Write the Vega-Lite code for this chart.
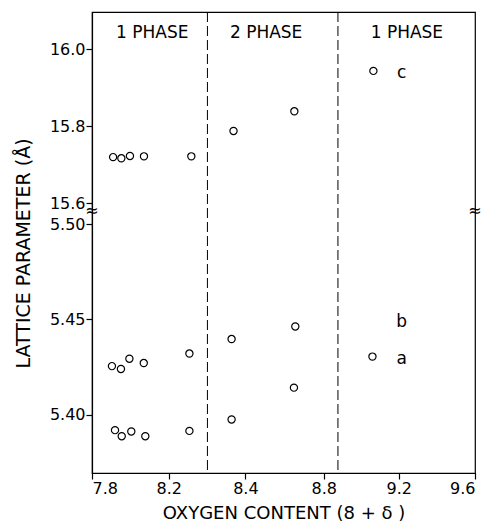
{
  "$schema": "https://vega.github.io/schema/vega-lite/v6.json",
  "width": 383,
  "height": 461,
  "autosize": "none",
  "padding": {"left": 92, "top": 12, "right": 14, "bottom": 53},
  "background": "white",
  "config": {
    "view": {"stroke": "black", "strokeWidth": 1.2},
    "font": "DejaVu Sans",
    "axis": {
      "grid": false,
      "domainColor": "black",
      "domainWidth": 1.2,
      "ticks": true,
      "tickColor": "black",
      "tickWidth": 1.2,
      "tickSize": 6,
      "labelColor": "black",
      "labelFont": "DejaVu Sans",
      "labelFontSize": 16,
      "titleColor": "black",
      "titleFont": "DejaVu Sans",
      "titleFontSize": 18,
      "titleFontWeight": "normal"
    }
  },
  "datasets": {
    "points": [
      {"x": 7.910, "y": 15.720}, {"x": 7.953, "y": 15.717}, {"x": 7.998, "y": 15.723},
      {"x": 8.071, "y": 15.722}, {"x": 8.259, "y": 15.722},
      {"x": 8.369, "y": 15.788}, {"x": 8.650, "y": 15.839}, {"x": 9.065, "y": 15.944},
      {"x": 7.904, "y": 5.4254}, {"x": 7.951, "y": 5.4239}, {"x": 7.995, "y": 5.4293},
      {"x": 8.070, "y": 5.4270}, {"x": 8.254, "y": 5.4320}, {"x": 8.364, "y": 5.4396},
      {"x": 8.655, "y": 5.4462}, {"x": 8.648, "y": 5.4141}, {"x": 9.060, "y": 5.4304},
      {"x": 7.920, "y": 5.3918}, {"x": 7.955, "y": 5.3886}, {"x": 8.005, "y": 5.3911},
      {"x": 8.078, "y": 5.3886}, {"x": 8.254, "y": 5.3914}, {"x": 8.364, "y": 5.3974}
    ],
    "bounds": [{"x": 8.301}, {"x": 8.876}],
    "phases": [
      {"x": 8.114, "y": 16.043, "label": "1 PHASE"},
      {"x": 8.506, "y": 16.043, "label": "2 PHASE"},
      {"x": 9.243, "y": 16.043, "label": "1 PHASE"}
    ],
    "letters": [
      {"x": 9.216, "y": 15.939, "label": "c"},
      {"x": 9.216, "y": 5.4486, "label": "b"},
      {"x": 9.216, "y": 5.4293, "label": "a"}
    ],
    "breaks": [
      {"x": 7.8, "y": 11.7, "label": "≈"},
      {"x": 9.6, "y": 11.7, "label": "≈"}
    ]
  },
  "layer": [
    {
      "data": {"name": "points"},
      "mark": {"type": "point", "shape": "circle", "filled": false, "stroke": "black", "strokeWidth": 1.2, "size": 52, "opacity": 1},
      "encoding": {
        "x": {
          "field": "x", "type": "quantitative",
          "scale": {"domain": [7.8, 8.2, 8.4, 8.8, 9.2, 9.6], "range": [0, 76.7, 153.4, 231.7, 306.7, 383], "nice": false, "zero": false},
          "axis": {
            "values": [7.8, 8.2, 8.4, 8.8, 9.2, 9.6],
            "labelExpr": "format(datum.value, '.1f')",
            "labelPadding": 1,
            "title": "OXYGEN CONTENT (8 + δ )",
            "titleY": 40,
            "titleBaseline": "middle"
          }
        },
        "y": {
          "field": "y", "type": "quantitative",
          "scale": {"domain": [5.3693, 5.50, 15.6, 16.097], "range": [461, 212, 191.3, 0], "nice": false, "zero": false},
          "axis": {
            "values": [5.40, 5.45, 5.50, 15.6, 15.8, 16.0],
            "labelExpr": "datum.value > 10 ? format(datum.value, '.1f') : format(datum.value, '.2f')",
            "labelPadding": 1,
            "title": "LATTICE PARAMETER (Å)",
            "titleAngle": -90,
            "titleX": -69,
            "titleY": 241,
            "titleAlign": "center",
            "titleBaseline": "middle",
            "titleFontSize": 19
          }
        }
      }
    },
    {
      "data": {"name": "bounds"},
      "mark": {"type": "rule", "color": "black", "strokeWidth": 1, "strokeDash": [10, 4]},
      "encoding": {"x": {"field": "x", "type": "quantitative"}}
    },
    {
      "data": {"name": "phases"},
      "mark": {"type": "text", "fontSize": 17, "color": "black", "align": "center", "baseline": "middle"},
      "encoding": {
        "x": {"field": "x", "type": "quantitative"},
        "y": {"field": "y", "type": "quantitative"},
        "text": {"field": "label"}
      }
    },
    {
      "data": {"name": "letters"},
      "mark": {"type": "text", "fontSize": 17, "color": "black", "align": "center", "baseline": "middle"},
      "encoding": {
        "x": {"field": "x", "type": "quantitative"},
        "y": {"field": "y", "type": "quantitative"},
        "text": {"field": "label"}
      }
    },
    {
      "data": {"name": "breaks"},
      "mark": {"type": "text", "fontSize": 16, "color": "black", "align": "center", "baseline": "middle"},
      "encoding": {
        "x": {"field": "x", "type": "quantitative"},
        "y": {"field": "y", "type": "quantitative"},
        "text": {"field": "label"}
      }
    }
  ]
}
